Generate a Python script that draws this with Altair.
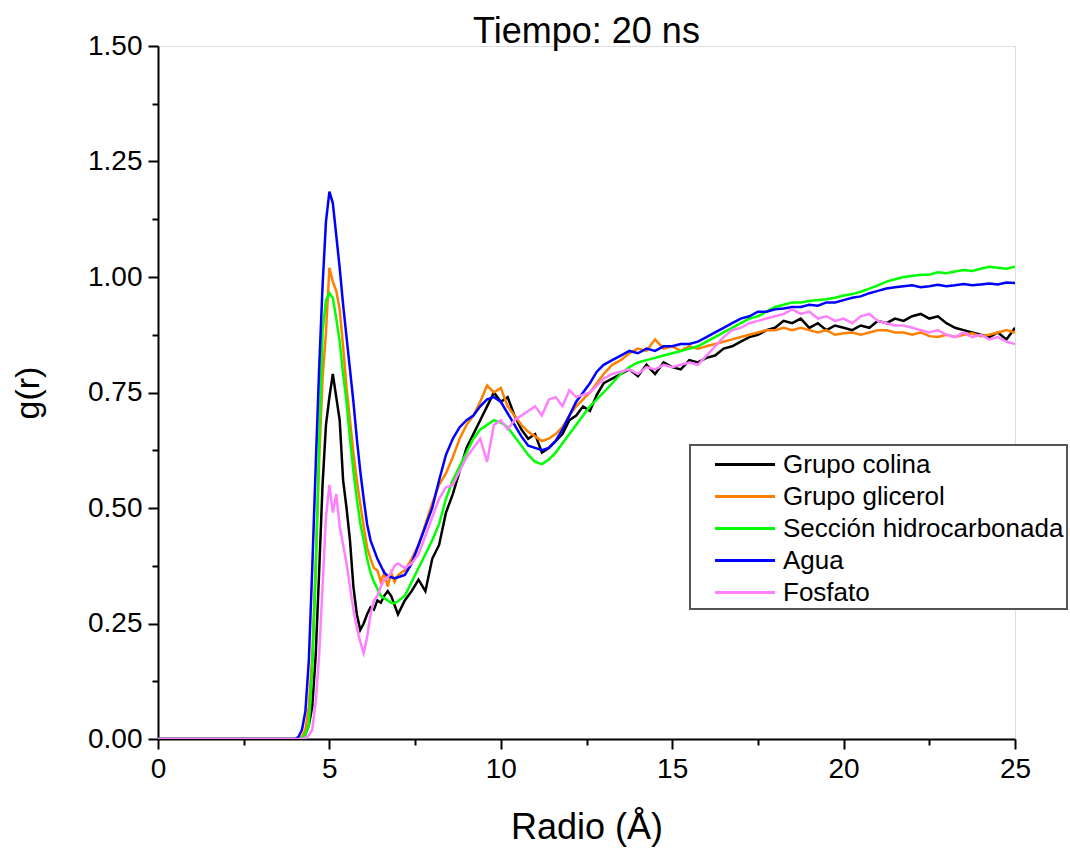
import altair as alt
import pandas as pd

# Radio (Å) grid
r = [0, 4.0,
     4.1, 4.2, 4.3, 4.4, 4.5, 4.6, 4.7, 4.8, 4.9, 5.0,
     5.1, 5.2, 5.3, 5.4, 5.5, 5.6, 5.7, 5.8, 5.9, 6.0,
     6.1, 6.2, 6.3, 6.4, 6.5, 6.6, 6.7, 6.8, 6.9, 7.0,
     7.2, 7.4, 7.6, 7.8, 8.0, 8.2, 8.4, 8.6, 8.8, 9.0,
     9.2, 9.4, 9.6, 9.8, 10.0, 10.2, 10.4, 10.6, 10.8, 11.0,
     11.2, 11.4, 11.6, 11.8, 12.0, 12.2, 12.4, 12.6, 12.8, 13.0,
     13.25, 13.5, 13.75, 14.0, 14.25, 14.5, 14.75, 15.0,
     15.25, 15.5, 15.75, 16.0, 16.25, 16.5, 16.75, 17.0,
     17.25, 17.5, 17.75, 18.0, 18.25, 18.5, 18.75, 19.0,
     19.25, 19.5, 19.75, 20.0, 20.25, 20.5, 20.75, 21.0,
     21.25, 21.5, 21.75, 22.0, 22.25, 22.5, 22.75, 23.0,
     23.25, 23.5, 23.75, 24.0, 24.25, 24.5, 24.75, 25.0]

colina = [0, 0,
          0, 0.003, 0.01, 0.03, 0.07, 0.18, 0.36, 0.55, 0.68, 0.74,
          0.79, 0.74, 0.69, 0.56, 0.50, 0.43, 0.33, 0.27, 0.236, 0.25,
          0.27, 0.285, 0.28, 0.30, 0.295, 0.31, 0.32, 0.31, 0.29, 0.27,
          0.30, 0.32, 0.345, 0.32, 0.39, 0.42, 0.49, 0.53, 0.58, 0.63,
          0.66, 0.69, 0.72, 0.75, 0.73, 0.74, 0.70, 0.67, 0.65, 0.66,
          0.62, 0.63, 0.645, 0.66, 0.69, 0.70, 0.72, 0.71, 0.745, 0.77,
          0.78, 0.79, 0.80, 0.785, 0.81, 0.79, 0.815, 0.805,
          0.80, 0.82, 0.815, 0.825, 0.83, 0.845, 0.85, 0.86,
          0.87, 0.875, 0.885, 0.89, 0.905, 0.90, 0.91, 0.89,
          0.90, 0.885, 0.895, 0.89, 0.885, 0.895, 0.89, 0.905,
          0.90, 0.91, 0.905, 0.915, 0.92, 0.91, 0.915, 0.90,
          0.89, 0.885, 0.88, 0.875, 0.87, 0.88, 0.865, 0.89]

glicerol = [0, 0,
            0, 0.005, 0.02, 0.07, 0.18, 0.38, 0.60, 0.78, 0.88, 1.02,
            0.99, 0.97, 0.93, 0.85, 0.76, 0.69, 0.62, 0.56, 0.51, 0.46,
            0.415, 0.39, 0.37, 0.365, 0.34, 0.36, 0.33, 0.36, 0.34, 0.355,
            0.365, 0.39, 0.42, 0.465, 0.51, 0.55, 0.575, 0.61, 0.65, 0.68,
            0.70, 0.73, 0.765, 0.75, 0.76, 0.72, 0.70, 0.68, 0.665, 0.655,
            0.645, 0.65, 0.66, 0.675, 0.70, 0.72, 0.735, 0.75, 0.77, 0.79,
            0.81, 0.82, 0.835, 0.845, 0.84, 0.865, 0.845, 0.85,
            0.84, 0.85, 0.845, 0.85, 0.855, 0.86, 0.865, 0.87,
            0.875, 0.88, 0.885, 0.885, 0.89, 0.885, 0.89, 0.885,
            0.88, 0.885, 0.875, 0.878, 0.88, 0.875, 0.88, 0.885,
            0.885, 0.88, 0.88, 0.875, 0.88, 0.872, 0.87, 0.875,
            0.87, 0.875, 0.878, 0.872, 0.875, 0.88, 0.885, 0.88]

hidrocarbonada = [0, 0,
                  0, 0.002, 0.01, 0.03, 0.15, 0.36, 0.64, 0.88, 0.95, 0.965,
                  0.955, 0.91, 0.86, 0.79, 0.73, 0.65, 0.58, 0.52, 0.467, 0.43,
                  0.39, 0.36, 0.34, 0.325, 0.31, 0.305, 0.30, 0.295, 0.294, 0.298,
                  0.31, 0.34, 0.37, 0.40, 0.43, 0.465, 0.52, 0.56, 0.59, 0.62,
                  0.65, 0.67, 0.68, 0.69, 0.685, 0.675, 0.655, 0.635, 0.615, 0.60,
                  0.595, 0.605, 0.62, 0.64, 0.66, 0.68, 0.70, 0.72, 0.735, 0.75,
                  0.77, 0.79, 0.805, 0.815, 0.82, 0.825, 0.83, 0.835,
                  0.84, 0.845, 0.85, 0.86, 0.87, 0.88, 0.89, 0.90,
                  0.91, 0.915, 0.925, 0.935, 0.94, 0.945, 0.945, 0.948,
                  0.95, 0.952, 0.955, 0.96, 0.963, 0.968, 0.975, 0.982,
                  0.99, 0.995, 1.0, 1.002, 1.005, 1.005, 1.01, 1.008,
                  1.012, 1.015, 1.013, 1.018, 1.022, 1.02, 1.018, 1.022]

agua = [0, 0,
        0.005, 0.02, 0.06, 0.17, 0.37, 0.59, 0.80, 0.98, 1.12, 1.185,
        1.16, 1.09, 1.02, 0.94, 0.87, 0.80, 0.73, 0.65, 0.58, 0.52,
        0.465, 0.43, 0.41, 0.39, 0.375, 0.36, 0.353, 0.35, 0.348, 0.35,
        0.355, 0.38, 0.42, 0.46, 0.50, 0.56, 0.615, 0.65, 0.675, 0.69,
        0.70, 0.72, 0.735, 0.74, 0.73, 0.705, 0.68, 0.655, 0.635, 0.63,
        0.625, 0.63, 0.645, 0.67, 0.70, 0.73, 0.75, 0.77, 0.795, 0.81,
        0.82, 0.83, 0.84, 0.835, 0.845, 0.84, 0.85, 0.85,
        0.855, 0.855, 0.86, 0.87, 0.88, 0.89, 0.90, 0.91,
        0.915, 0.925, 0.925, 0.93, 0.932, 0.935, 0.935, 0.94,
        0.938, 0.945, 0.945, 0.95, 0.955, 0.958, 0.965, 0.97,
        0.975, 0.978, 0.98, 0.982, 0.978, 0.98, 0.983, 0.98,
        0.982, 0.985, 0.982, 0.984, 0.986, 0.984, 0.988, 0.987]

fosfato = [0, 0,
           0, 0, 0.002, 0.008, 0.02, 0.08, 0.18, 0.33, 0.48, 0.55,
           0.49, 0.53, 0.46, 0.42, 0.38, 0.33, 0.28, 0.24, 0.21, 0.186,
           0.22, 0.27, 0.30, 0.31, 0.33, 0.345, 0.35, 0.36, 0.375, 0.38,
           0.37, 0.38, 0.40, 0.44, 0.48, 0.52, 0.545, 0.55, 0.58, 0.61,
           0.63, 0.65, 0.60, 0.68, 0.69, 0.67, 0.69, 0.70, 0.71, 0.72,
           0.70, 0.735, 0.74, 0.72, 0.755, 0.74, 0.745, 0.75, 0.765, 0.78,
           0.79, 0.795, 0.80, 0.79, 0.805, 0.80, 0.81, 0.805,
           0.81, 0.815, 0.81, 0.83, 0.85, 0.87, 0.885, 0.89,
           0.90, 0.905, 0.91, 0.915, 0.92, 0.93, 0.92, 0.925,
           0.91, 0.915, 0.905, 0.91, 0.90, 0.915, 0.92, 0.905,
           0.90, 0.895, 0.895, 0.89, 0.885, 0.88, 0.885, 0.875,
           0.87, 0.88, 0.87, 0.875, 0.865, 0.87, 0.86, 0.855]

names = ["Grupo colina", "Grupo glicerol", "Sección hidrocarbonada", "Agua", "Fosfato"]
colors = ["#000000", "#FF8000", "#00FF00", "#0000FF", "#FF80FF"]
series = [colina, glicerol, hidrocarbonada, agua, fosfato]

x_all = [0, 2.5, 5, 7.5, 10, 12.5, 15, 17.5, 20, 22.5, 25]
y_all = [0, 0.125, 0.25, 0.375, 0.5, 0.625, 0.75, 0.875, 1.0, 1.125, 1.25, 1.375, 1.5]

for s in series:
    assert len(s) == len(r), (len(s), len(r))

rows = []
for i, (name, vals) in enumerate(zip(names, series)):
    for x, y in zip(r, vals):
        rows.append({"Radio": x, "g": y, "serie": name, "k": i})
df = pd.DataFrame(rows)

FONT = "Liberation Sans"

x_axis = alt.Axis(
    values=x_all,
    labelExpr="datum.value % 5 == 0 ? format(datum.value, 'd') : ''",
    title="Radio (Å)",
    grid=False,
    tickSize={"condition": {"test": "datum.value % 5 == 0", "value": 10}, "value": 6},
    tickWidth=2, tickColor="black",
    domainColor="black", domainWidth=2,
    labelFont=FONT, labelFontSize=28, labelColor="black", labelPadding=6,
    titleFont=FONT, titleFontSize=36, titleFontWeight="normal", titleColor="black",
    titlePadding=27,
    labelFlush=False, labelOverlap=False,
)
y_axis = alt.Axis(
    values=y_all,
    labelExpr="round(datum.value*4) == datum.value*4 ? format(datum.value, '.2f') : ''",
    title="g(r)",
    grid=False,
    tickSize={"condition": {"test": "round(datum.value*4) == datum.value*4", "value": 10}, "value": 6},
    tickWidth=2, tickColor="black",
    domainColor="black", domainWidth=2,
    labelFont=FONT, labelFontSize=28, labelColor="black", labelPadding=6,
    titleFont=FONT, titleFontSize=34, titleFontWeight="normal", titleColor="black",
    titlePadding=42,
    labelFlush=False, labelOverlap=False,
)

legend = alt.Legend(
    title=None,
    orient="none", legendX=532, legendY=399,
    fillColor="white", strokeColor="#555555",
    padding=3,
    symbolType="M0.37,0H4.37", symbolSize=900, symbolStrokeWidth=3,
    labelFont=FONT, labelFontSize=26, labelColor="black",
    labelOffset=57, labelLimit=500,
    rowPadding=2,
)

chart = alt.Chart(df).mark_line(strokeWidth=2.5, clip=True).encode(
    x=alt.X("Radio:Q", scale=alt.Scale(domain=[0, 25], nice=False, zero=False), axis=x_axis),
    y=alt.Y("g:Q", scale=alt.Scale(domain=[0, 1.5], nice=False), axis=y_axis),
    color=alt.Color("serie:N", scale=alt.Scale(domain=names, range=colors), legend=legend),
    order=alt.Order("Radio:Q"),
).properties(
    width=857, height=693,
    autosize="none",
    padding={"left": 158, "top": 46, "right": 55, "bottom": 109},
    title=alt.TitleParams("Tiempo: 20 ns", font=FONT, fontSize=36, fontWeight="normal",
                          color="black", anchor="middle", frame="group", offset=-19),
).configure_view(stroke=None).configure(background="white").configure_legend(strokeWidth=2)

chart.save("out.html", embed_options={"renderer": "svg", "actions": False})
